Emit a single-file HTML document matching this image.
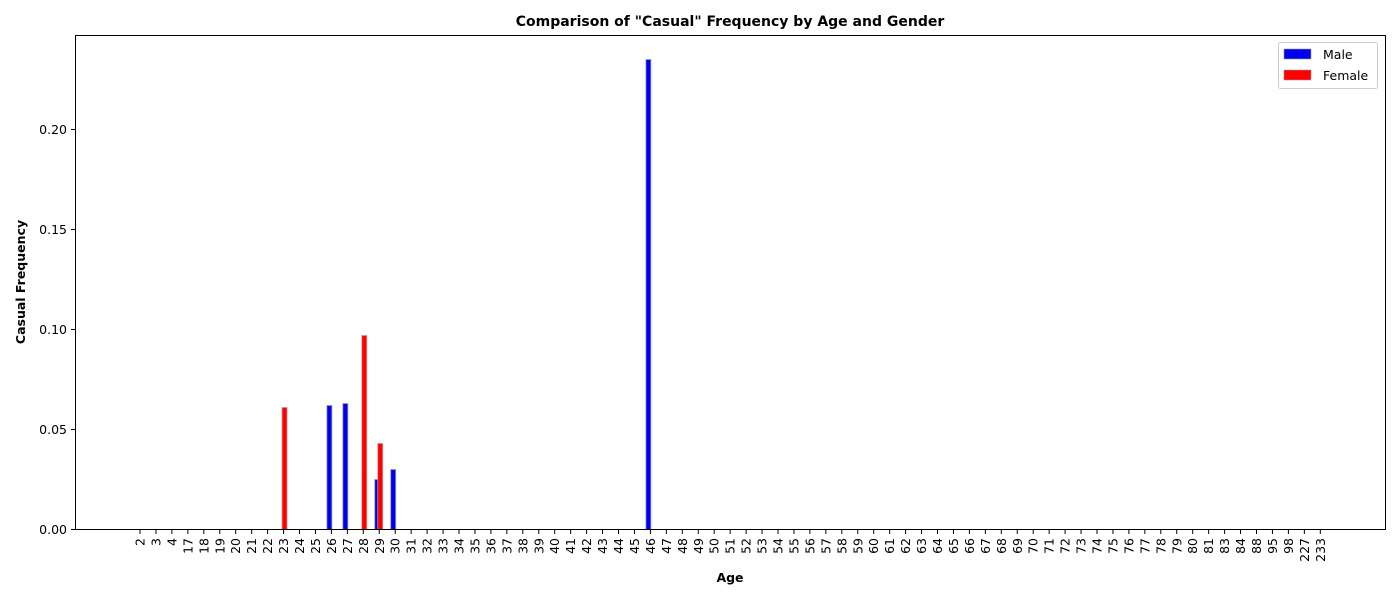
<!DOCTYPE html>
<html><head><meta charset="utf-8"><style>
body{margin:0;background:#fff;font-family:"Liberation Sans","DejaVu Sans",sans-serif}
</style></head><body>
<svg id="chart" width="1400" height="600" xmlns="http://www.w3.org/2000/svg" font-family="DejaVu Sans, Liberation Sans, sans-serif">
<text x="730" y="26" text-anchor="middle" font-size="14" font-weight="bold">Comparison of "Casual" Frequency by Age and Gender</text>
<text x="730" y="582" text-anchor="middle" font-size="12.5" font-weight="bold">Age</text>
<text transform="translate(25,282) rotate(-90)" text-anchor="middle" font-size="12.5" font-weight="bold">Casual Frequency</text>
<g id="plot"></g>
<rect x="75.5" y="35.5" width="1310" height="494" fill="none" stroke="#000" stroke-width="1"/>
<g>
<rect x="1278.5" y="42.5" width="99" height="46" fill="#fff" stroke="#ccc" rx="2"/>
<rect x="1284" y="49" width="27" height="10" fill="#0000ee" stroke="#999" stroke-width="0.6"/>
<text x="1323" y="59" font-size="12.5">Male</text>
<rect x="1284" y="70" width="27" height="10" fill="#ff0000" stroke="#999" stroke-width="0.6"/>
<text x="1323" y="80" font-size="12.5">Female</text>
</g>
</svg>
<script>
const ages=[2,3,4,17,18,19,20,21,22,23,24,25,26,27,28,29,30,31,32,33,34,35,36,37,38,39,40,41,42,43,44,45,46,47,48,49,50,51,52,53,54,55,56,57,58,59,60,61,62,63,64,65,66,67,68,69,70,71,72,73,74,75,76,77,78,79,80,81,83,84,88,95,98,227,233];
const maleAges=[26,27,29,30,46];
const maleValues=[0.062,0.063,0.025,0.030,0.235];
const femaleAges=[23,28,29];
const femaleValues=[0.061,0.097,0.043];
const yTicks=[0,0.05,0.10,0.15,0.20];
const yTickLabels=["0.00","0.05","0.10","0.15","0.20"];
const NS="http://www.w3.org/2000/svg";
const g=document.getElementById('plot');
const x=i=>140+i*15.95;
const y=v=>529.5-v*2000;
function mk(t,a){const e=document.createElementNS(NS,t);for(const k in a)e.setAttribute(k,a[k]);g.appendChild(e);return e;}
yTicks.forEach((v,i)=>{
  const l=mk('line',{x1:71,x2:75,y1:y(v),y2:y(v),stroke:'#000'});
  
  
  const t=mk('text',{x:67,y:y(v)+4.5,'text-anchor':'end','font-size':'12.5'});
  t.textContent=yTickLabels[i];
  
  
});
ages.forEach((a,i)=>{
  const l=mk('line',{x1:x(i),x2:x(i),y1:530,y2:534,stroke:'#000'});
  
  
  const t=mk('text',{transform:`translate(${x(i)+4.5},538) rotate(-90)`,'text-anchor':'end','font-size':'12.5'});
  t.textContent=a;
  
  
});
const bw=5;
maleAges.forEach((a,k)=>{
  const i=ages.indexOf(a);
  const r=mk('rect',{x:x(i)-2-bw/2,y:y(maleValues[k]),width:bw,height:y(0)-y(maleValues[k]),fill:'#0000ee',stroke:'#9999bb','stroke-width':0.8});
  
  
});
femaleAges.forEach((a,k)=>{
  const i=ages.indexOf(a);
  const r=mk('rect',{x:x(i)+1-bw/2,y:y(femaleValues[k]),width:bw,height:y(0)-y(femaleValues[k]),fill:'#ff0000',stroke:'#bb9999','stroke-width':0.8});
  
  
});
</script>
</body></html>
